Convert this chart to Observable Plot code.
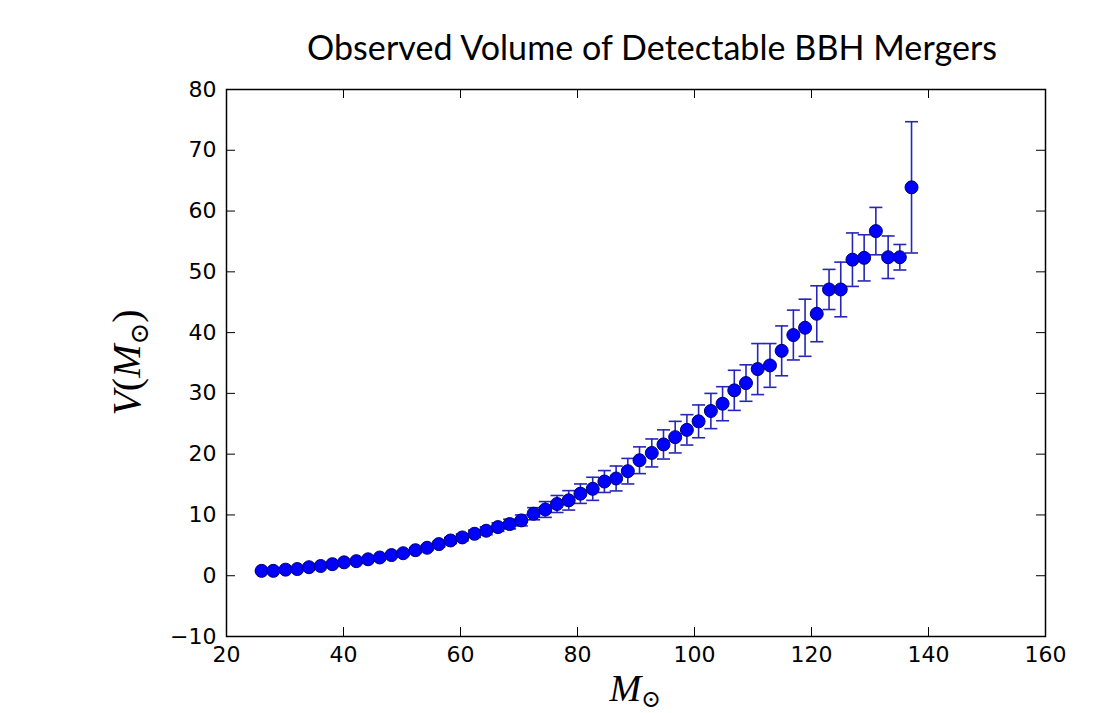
<!DOCTYPE html>
<html><head><meta charset="utf-8">
<script src="https://cdn.jsdelivr.net/npm/d3@7"></script>
<script src="https://cdn.jsdelivr.net/npm/@observablehq/plot@0.6"></script>
<style>
body{margin:0;background:#fff;width:1106px;height:713px;overflow:hidden;}
#title{position:relative;height:62px;}
#title span{position:absolute;left:307px;top:30px;font-family:Lato,"Open Sans",sans-serif;font-size:34px;white-space:nowrap;color:#000;line-height:1;}
#chart svg{display:block;overflow:visible;}
</style></head><body>
<div id="title"><span id="t"></span></div>
<div id="chart"></div>
<script>
const titleText = "Observed Volume of Detectable BBH Mergers";
const xTicks = [20, 40, 60, 80, 100, 120, 140, 160];
const yTicks = [-10, 0, 10, 20, 30, 40, 50, 60, 70, 80];

// bin centres (solar masses)
const mass = [26.0, 28.0, 30.1, 32.1, 34.1, 36.1, 38.1, 40.1, 42.2, 44.2,
  46.2, 48.2, 50.2, 52.3, 54.3, 56.3, 58.3, 60.3, 62.4, 64.4,
  66.4, 68.4, 70.4, 72.5, 74.5, 76.5, 78.5, 80.5, 82.6, 84.6,
  86.6, 88.6, 90.6, 92.7, 94.7, 96.7, 98.7, 100.7, 102.8, 104.8,
  106.8, 108.8, 110.8, 112.9, 114.9, 116.9, 118.9, 120.9, 123.0, 125.0,
  127.0, 129.0, 131.0, 133.1, 135.1, 137.1];
// observed volume
const volume = [0.8, 0.8, 1.0, 1.1, 1.4, 1.6, 1.9, 2.2, 2.4, 2.7,
  3.0, 3.4, 3.7, 4.2, 4.6, 5.2, 5.8, 6.3, 6.9, 7.4,
  8.0, 8.5, 9.1, 10.2, 10.9, 11.8, 12.4, 13.5, 14.3, 15.5,
  16.0, 17.2, 19.0, 20.2, 21.6, 22.8, 24.0, 25.4, 27.1, 28.3,
  30.5, 31.7, 34.0, 34.6, 37.0, 39.6, 40.8, 43.1, 47.1, 47.1,
  52.0, 52.3, 56.7, 52.4, 52.4, 63.9];
// symmetric error (half-length)
const volumeErr = [0.1, 0.1, 0.1, 0.1, 0.15, 0.15, 0.2, 0.2, 0.25, 0.25,
  0.3, 0.3, 0.35, 0.4, 0.4, 0.45, 0.5, 0.55, 0.6, 0.65,
  0.7, 0.8, 0.9, 1.0, 1.3, 1.4, 1.6, 1.6, 1.9, 1.8,
  2.05, 2.1, 2.2, 2.3, 2.4, 2.6, 2.5, 2.7, 2.9, 2.8,
  3.3, 3.0, 4.2, 3.6, 4.1, 4.1, 4.7, 4.6, 3.3, 4.5,
  4.4, 3.8, 3.9, 3.5, 2.1, 10.8];

// title: taller, narrower glyphs like the reference, fitted to its width
const t = document.getElementById("t");
t.textContent = titleText;
const tw = t.getBoundingClientRect().width;
t.style.letterSpacing = ((690 - tw) / (titleText.length - 1)) + "px";

const data = mass.map((m, i) => ({m, v: volume[i], e: volumeErr[i]}));
const W = 1106, H = 651, mt = 27, mb = 77, ml = 226, mr = 61;
const fw = W - ml - mr, fh = H - mt - mb;
const errColor = "#2626b8";
const cap = {draw(ctx) { ctx.moveTo(-6.5, 0); ctx.lineTo(6.5, 0); }};

const plot = Plot.plot({
  width: W, height: H,
  marginTop: mt, marginBottom: mb, marginLeft: ml, marginRight: mr,
  style: {fontFamily: "DejaVu Sans", fontSize: "22px", color: "#000", background: "#fff", overflow: "visible"},
  x: {domain: [20, 160], label: null},
  y: {domain: [-10, 80], label: null},
  marks: [
    Plot.ruleX(data, {x: "m", y1: d => d.v - d.e, y2: d => d.v + d.e, stroke: errColor, strokeWidth: 1.6}),
    Plot.dot(data, {x: "m", y: d => d.v + d.e, symbol: cap, r: 3, stroke: errColor, strokeWidth: 1.6, fill: "none"}),
    Plot.dot(data, {x: "m", y: d => d.v - d.e, symbol: cap, r: 3, stroke: errColor, strokeWidth: 1.6, fill: "none"}),
    Plot.dot(data, {x: "m", y: "v", r: 6.5, fill: "#0000ff", stroke: "#00006e", strokeWidth: 1}),
    Plot.tickX(xTicks, {x: d => d, insetTop: fh - 9, stroke: "#000", strokeWidth: 1}),
    Plot.tickX(xTicks, {x: d => d, insetBottom: fh - 9, stroke: "#000", strokeWidth: 1}),
    Plot.tickY(yTicks, {y: d => d, insetRight: fw - 9, stroke: "#000", strokeWidth: 1}),
    Plot.tickY(yTicks, {y: d => d, insetLeft: fw - 9, stroke: "#000", strokeWidth: 1}),
    Plot.axisX({ticks: xTicks, tickSize: 0, tickPadding: 10, label: null}),
    Plot.axisY({ticks: yTicks, tickSize: 0, tickPadding: 10, label: null}),
    Plot.frame({stroke: "#000", strokeWidth: 1.5})
  ]
});
document.getElementById("chart").appendChild(plot);

const svg = d3.select(plot);
// y label  V(M_⊙)
const yl = svg.append("text")
  .attr("transform", `translate(140,${mt + fh / 2}) rotate(-90)`)
  .attr("text-anchor", "middle")
  .attr("font-family", "Liberation Serif, DejaVu Serif, serif")
  .attr("font-size", 40)
  .attr("fill", "#000");
yl.append("tspan").attr("font-style", "italic").text("V");
yl.append("tspan").text("(");
yl.append("tspan").attr("font-style", "italic").text("M");
yl.append("tspan").attr("font-size", 26).attr("dy", 8).text("⊙");
yl.append("tspan").attr("dy", -8).text(")");
// x label  M_⊙
const xl = svg.append("text")
  .attr("x", ml + fw / 2)
  .attr("y", H - 12)
  .attr("text-anchor", "middle")
  .attr("font-family", "Liberation Serif, DejaVu Serif, serif")
  .attr("font-size", 38)
  .attr("fill", "#000");
xl.append("tspan").attr("font-style", "italic").text("M");
xl.append("tspan").attr("font-size", 24).attr("dy", 6).text("⊙");
</script>
</body></html>
